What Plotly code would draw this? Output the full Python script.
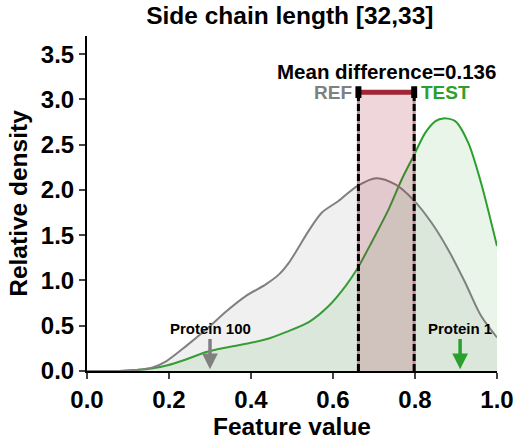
import plotly.graph_objects as go

ref_x = [0.0, 0.08, 0.12, 0.16, 0.194, 0.243, 0.291, 0.34, 0.388, 0.437, 0.469, 0.493, 0.51, 0.541, 0.573, 0.614, 0.658, 0.706, 0.752, 0.796, 0.84, 0.881, 0.922, 0.961, 1.0]
ref_y = [0.0, 0.0, 0.01, 0.04, 0.11, 0.28, 0.46, 0.66, 0.83, 0.96, 1.07, 1.20, 1.32, 1.55, 1.75, 1.88, 2.04, 2.13, 2.06, 1.89, 1.64, 1.34, 0.98, 0.61, 0.37]

test_x = [0.0, 0.08, 0.12, 0.16, 0.194, 0.243, 0.291, 0.34, 0.388, 0.437, 0.485, 0.541, 0.59, 0.631, 0.658, 0.694, 0.735, 0.767, 0.796, 0.825, 0.85, 0.869, 0.898, 0.93, 0.961, 1.0]
test_y = [0.0, 0.0, 0.01, 0.03, 0.06, 0.13, 0.21, 0.26, 0.30, 0.35, 0.43, 0.54, 0.72, 0.94, 1.12, 1.42, 1.78, 2.11, 2.37, 2.63, 2.76, 2.79, 2.76, 2.52, 2.08, 1.38]

ref_mean = 0.662
test_mean = 0.798
bracket_y = 3.08
title = "Side chain length [32,33]"
x_ticks = [0.0, 0.2, 0.4, 0.6, 0.8, 1.0]
y_ticks = [0.0, 0.5, 1.0, 1.5, 2.0, 2.5, 3.0, 3.5]

GRAY = "#808080"
GREEN = "#2ca02c"
FONT = "Liberation Sans, Arial, sans-serif"

fig = go.Figure()
fig.add_trace(go.Scatter(x=test_x, y=test_y, mode="lines", line=dict(color=GREEN, width=2, shape="spline", smoothing=0.8),
                         fill="tozeroy", fillcolor="rgba(44,160,44,0.11)", hoverinfo="skip"))
fig.add_trace(go.Scatter(x=ref_x, y=ref_y, mode="lines", line=dict(color=GRAY, width=2, shape="spline", smoothing=0.8),
                         fill="tozeroy", fillcolor="rgba(128,128,128,0.12)", hoverinfo="skip"))

# shaded region and dashed lines
fig.add_shape(type="rect", x0=ref_mean, x1=test_mean, y0=0, y1=bracket_y, xref="x", yref="y",
              fillcolor="rgba(160,30,50,0.18)", line=dict(width=0), layer="above")
for xm in (ref_mean, test_mean):
    fig.add_shape(type="line", x0=xm, x1=xm, y0=0, y1=bracket_y, xref="x", yref="y",
                  line=dict(color="rgba(200,140,150,1)", width=3), layer="above")
    fig.add_shape(type="line", x0=xm, x1=xm, y0=0, y1=bracket_y, xref="x", yref="y",
                  line=dict(color="black", width=3, dash="7px,3px"), layer="above")
fig.add_trace(go.Scatter(x=[ref_mean, test_mean], y=[bracket_y, bracket_y], mode="lines",
                         line=dict(color="#a02838", width=5), hoverinfo="skip"))
for xm in (ref_mean, test_mean):
    fig.add_shape(type="line", x0=xm, x1=xm, y0=bracket_y - 0.065, y1=bracket_y + 0.065, xref="x", yref="y",
                  line=dict(color="black", width=6), layer="above")

fig.add_annotation(x=(ref_mean + test_mean) / 2, y=3.31, text="<b>Mean difference=0.136</b>", showarrow=False,
                   font=dict(size=20.5, color="black", family=FONT), xref="x", yref="y")
fig.add_annotation(x=ref_mean - 0.012, y=bracket_y, text="<b>REF</b>", showarrow=False, xanchor="right",
                   font=dict(size=19, color=GRAY, family=FONT), xref="x", yref="y")
fig.add_annotation(x=test_mean + 0.012, y=bracket_y, text="<b>TEST</b>", showarrow=False, xanchor="left",
                   font=dict(size=19, color=GREEN, family=FONT), xref="x", yref="y")

# protein arrows
for px, label, col in ((0.3, "Protein 100", GRAY), (0.91, "Protein 1", GREEN)):
    fig.add_annotation(x=px, y=0.02, ax=px, ay=0.37, xref="x", yref="y", axref="x", ayref="y",
                       showarrow=True, arrowhead=2, arrowsize=0.9, arrowwidth=3.5, arrowcolor=col, text="")
    fig.add_annotation(x=px, y=0.47, text="<b>" + label + "</b>", showarrow=False,
                       font=dict(size=15, color="black", family=FONT), xref="x", yref="y")

fig.update_layout(
    width=526, height=446,
    margin=dict(l=87, r=27, t=36, b=74),
    paper_bgcolor="white", plot_bgcolor="white",
    showlegend=False,
    font=dict(family=FONT, color="black"),
    title=dict(text="<b>" + title + "</b>", x=0.551, xanchor="center", y=0.985, yanchor="top",
               font=dict(size=24.5, family=FONT, color="black")),
    xaxis=dict(range=[0, 1], tickvals=x_ticks, ticktext=["<b>%.1f</b>" % v for v in x_ticks],
               ticks="outside", ticklen=6, tickwidth=2, showline=True, linewidth=2, linecolor="black",
               showgrid=False, zeroline=False, tickfont=dict(size=24, family=FONT),
               title=dict(text="<b>Feature value</b>", font=dict(size=24.5, family=FONT), standoff=4)),
    yaxis=dict(range=[0, 3.7], tickvals=y_ticks, ticktext=["<b>%.1f</b>" % v for v in y_ticks],
               ticks="outside", ticklen=6, tickwidth=2, showline=True, linewidth=2, linecolor="black",
               showgrid=False, zeroline=False, tickfont=dict(size=24, family=FONT),
               title=dict(text="<b>Relative density</b>", font=dict(size=24.5, family=FONT), standoff=6)),
)

fig.write_html("out.html")
